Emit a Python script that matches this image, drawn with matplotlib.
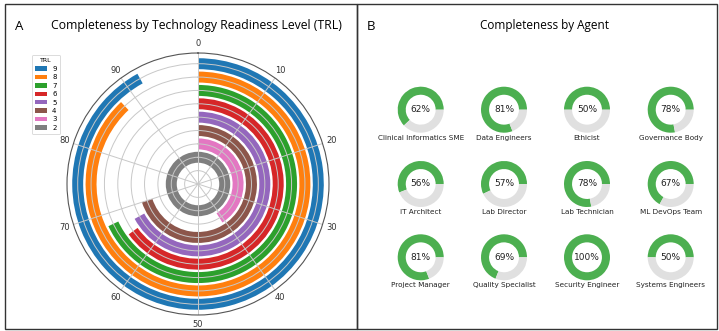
import numpy as np
import matplotlib
matplotlib.use("Agg")
import matplotlib.pyplot as plt
from matplotlib.patches import Patch, Rectangle

# TRL completeness (percent of circle)
trl_levels = [9, 8, 7, 6, 5, 4, 3, 2]
trl_completeness = [92, 88, 68, 65, 67, 70, 41, 100]
trl_colors = ["#1f77b4", "#ff7f0e", "#2ca02c", "#d62728",
              "#9467bd", "#8c564b", "#e377c2", "#7f7f7f"]

# completeness by agent
agents = ["Clinical Informatics SME", "Data Engineers", "Ethicist", "Governance Body",
          "IT Architect", "Lab Director", "Lab Technician", "ML DevOps Team",
          "Project Manager", "Quality Specialist", "Security Engineer", "Systems Engineers"]
agent_completeness = [62, 81, 50, 78, 56, 57, 78, 67, 81, 69, 100, 50]

W, H = 719, 331
fig = plt.figure(figsize=(W / 100, H / 100), dpi=100)
title_font = "Open Sans"


def px_box(x0, y0, w, h):
    # pixel box (top-left origin) -> figure fraction rect
    return [x0 / W, 1 - (y0 + h) / H, w / W, h / H]


# panel frames
for x0, x1 in [(5, 357), (357, 717)]:
    fig.add_artist(Rectangle((x0 / W, 1 - 329 / H), (x1 - x0) / W, 325 / H,
                             transform=fig.transFigure, fill=False,
                             edgecolor="#333333", linewidth=1.0))

# ---- panel A: radial bars ----
cx, cy, R = 198, 184, 131
ax = fig.add_axes(px_box(cx - R, cy - R, 2 * R, 2 * R), projection="polar")
ax.set_theta_zero_location("N")
ax.set_theta_direction(-1)
for lvl, pct, col in zip(trl_levels, trl_completeness, trl_colors):
    ax.bar(0, 0.82, width=2 * np.pi * pct / 100, bottom=lvl - 0.41,
           align="edge", color=col, linewidth=0, label=str(lvl))
ax.set_ylim(0, 9.8)
ax.set_yticks(range(1, 10))
ax.set_yticklabels([])
ax.set_xticks(np.linspace(0, 2 * np.pi, 10, endpoint=False))
ax.set_xticklabels([str(v) for v in range(0, 100, 10)], fontsize=6, color="#333333")
ax.tick_params(axis="x", pad=-4)
ax.grid(True, color="#c8c8c8", linewidth=0.7)
ax.spines["polar"].set_color("#555555")
ax.spines["polar"].set_linewidth(0.8)

handles = [Patch(facecolor=c, label=str(l)) for l, c in zip(trl_levels, trl_colors)]
leg = fig.legend(handles=handles, title="TRL", loc="upper left",
                 bbox_to_anchor=(32 / W, 1 - 55 / H), borderaxespad=0,
                 fontsize=5, title_fontsize=4.5,
                 labelspacing=0.35, handlelength=1.7, handleheight=0.6,
                 handletextpad=0.7, borderpad=0.5, frameon=True, fancybox=True)
leg.get_frame().set_edgecolor("#cccccc")
leg.get_frame().set_linewidth(0.6)

fig.text(15 / W, 1 - 26 / H, "A", fontsize=9.5, family=title_font, va="center", ha="left")
fig.text(196 / W, 1 - 26 / H, "Completeness by Technology Readiness Level (TRL)",
         fontsize=8.8, family=title_font, va="center", ha="center")

# ---- panel B: donuts ----
fig.text(367 / W, 1 - 26 / H, "B", fontsize=9.5, family=title_font, va="center", ha="left")
fig.text(545 / W, 1 - 26 / H, "Completeness by Agent",
         fontsize=8.5, family=title_font, va="center", ha="center")

col_x = [420.7, 504, 587, 670.7]
row_y = [109.7, 184, 257.3]
D = 46
for i, (name, pct) in enumerate(zip(agents, agent_completeness)):
    x = col_x[i % 4]
    y = row_y[i // 4]
    dax = fig.add_axes(px_box(x - D / 2, y - D / 2, D, D))
    dax.pie([pct, 100 - pct], colors=["#4caf50", "#e0e0e0"], startangle=0,
            wedgeprops=dict(width=0.35, edgecolor="none"))
    dax.set_xlim(-1, 1)
    dax.set_ylim(-1, 1)
    dax.set_aspect("equal")
    dax.axis("off")
    fig.text(x / W, 1 - y / H, f"{pct}%", fontsize=6.5, ha="center", va="center",
             color="#222222")
    fig.text(x / W, 1 - (y + 28) / H, name, fontsize=5.2, ha="center", va="center",
             color="#222222")

fig.savefig("out.png", dpi=100)
